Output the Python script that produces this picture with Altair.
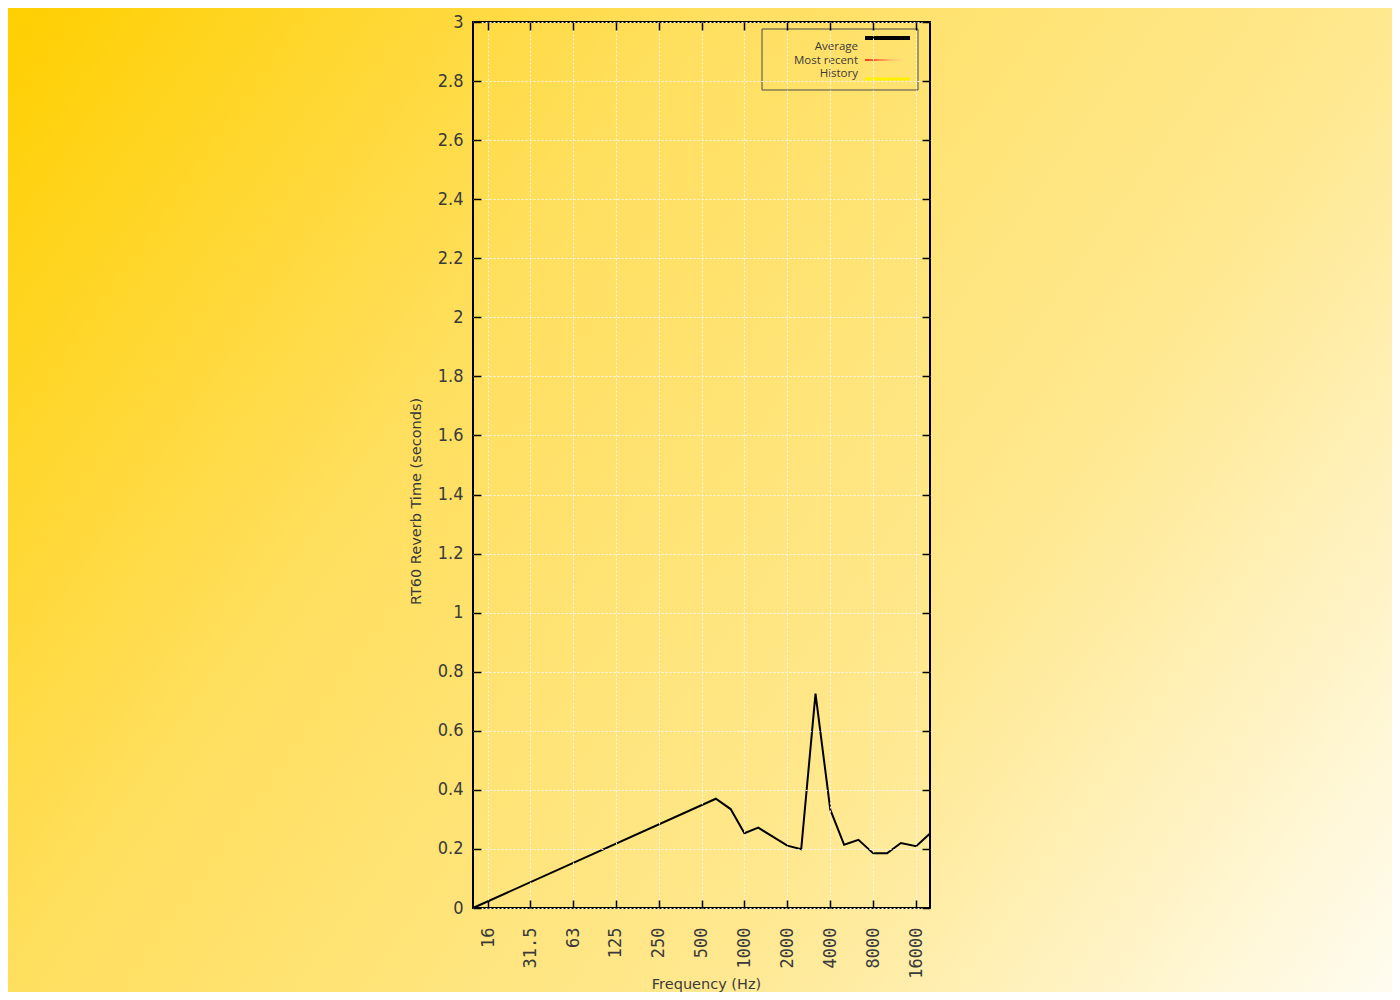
import altair as alt
import pandas as pd

# ---- data ----
freq_hz = [12.5, 630, 800, 1000, 1250, 1600, 2000, 2500, 3150, 4000,
           5000, 6300, 8000, 10000, 12500, 16000, 20000]
rt60_avg = [0.0, 0.37, 0.335, 0.253, 0.272, 0.24, 0.211, 0.199, 0.726, 0.333,
            0.214, 0.231, 0.185, 0.185, 0.22, 0.209, 0.252]
x_ticks = [16, 31.5, 63, 125, 250, 500, 1000, 2000, 4000, 8000, 16000]
y_ticks = [0, 0.2, 0.4, 0.6, 0.8, 1, 1.2, 1.4, 1.6, 1.8, 2, 2.2, 2.4, 2.6, 2.8, 3]
legend_labels = ["Average", "Most recent", "History"]

W, H = 457, 886
PAD_L, PAD_T, PAD_R, PAD_B = 465, 14, 462, 84

df = pd.DataFrame({"freq": freq_hz, "rt60": rt60_avg})

x_scale = alt.Scale(type="log", domain=[12.5, 20000], nice=False)
y_scale = alt.Scale(domain=[0, 3], nice=False, zero=False)

TXT = "#3a3a3a"
GRID = "#f8f6f0"

# ---- page background gradient ----
bg = alt.Chart(pd.DataFrame({"bg": [0]})).mark_rect(
    fill=alt.LinearGradient(
        gradient="linear",
        x1=0, y1=0, x2=1.2, y2=0.6,
        stops=[
            alt.GradientStop(offset=0, color="#FFCF00"),
            alt.GradientStop(offset=0.333, color="#FFDF5E"),
            alt.GradientStop(offset=0.667, color="#FFE88F"),
            alt.GradientStop(offset=1, color="#FFFCF0"),
        ],
    )
).encode(
    x=alt.value(-PAD_L), x2=alt.value(W + PAD_R),
    y=alt.value(-PAD_T), y2=alt.value(H + PAD_B),
)

# ---- main line with bottom/left axes ----
line = alt.Chart(df).mark_line(color="black", strokeWidth=2).encode(
    x=alt.X("freq:Q", scale=x_scale, axis=alt.Axis(
        orient="bottom", values=x_ticks,
        labelExpr="format(datum.value, '~g')",
        labelAngle=270, labelPadding=19, labelFlush=False, labelOverlap=False,
        labelFont="DejaVu Sans Mono", labelFontSize=17, labelColor=TXT,
        offset=-8, tickSize=8, tickColor="black", tickWidth=1.5,
        domain=False, grid=True, gridColor=GRID, gridDash=[2, 2], gridWidth=1,
        title="Frequency (Hz)", titleFont="DejaVu Sans", titleFontSize=14.5,
        titleFontWeight="normal", titleColor=TXT,
        titleBaseline="alphabetic", titleY=88, titleX=233, zindex=1,
    )),
    y=alt.Y("rt60:Q", scale=y_scale, axis=alt.Axis(
        orient="left", values=y_ticks,
        labelExpr="format(datum.value, '~g')",
        labelPadding=10, labelFlush=False, labelOverlap=False,
        labelFont="DejaVu Sans Condensed, Roboto, sans-serif", labelFontSize=18,
        labelColor=TXT,
        offset=-8, tickSize=8, tickColor="black", tickWidth=1.5,
        domain=False, grid=True, gridColor=GRID, gridDash=[2, 2], gridWidth=1,
        title="RT60 Reverb Time (seconds)", titleFont="DejaVu Sans", titleFontSize=14.5,
        titleFontWeight="normal", titleColor=TXT, titlePadding=14,
        titleY=479, zindex=1,
    )),
)

# ---- mirrored ticks on top/right ----
mirror = alt.Chart(df).mark_line(opacity=0).encode(
    x=alt.X("freq:Q", scale=x_scale, axis=alt.Axis(
        orient="top", values=x_ticks, labels=False, domain=False, grid=False,
        offset=-8, tickSize=8, tickColor="black", tickWidth=1.5, title=None, zindex=1,
    )),
    y=alt.Y("rt60:Q", scale=y_scale, axis=alt.Axis(
        orient="right", values=y_ticks, labels=False, domain=False, grid=False,
        offset=-8, tickSize=8, tickColor="black", tickWidth=1.5, title=None, zindex=1,
    )),
)

# ---- plot frame ----
frame = alt.Chart(pd.DataFrame({"f": [0]})).mark_rect(
    fill="transparent", stroke="black", strokeWidth=2
).encode(x=alt.value(0), x2=alt.value(W), y=alt.value(0), y2=alt.value(H))

# ---- legend (gnuplot-style key, top right) ----
legend_box = alt.Chart(pd.DataFrame({"k": [0]})).mark_rect(
    fill="transparent", stroke="#4a4a4a", strokeWidth=1
).encode(x=alt.value(289), x2=alt.value(445), y=alt.value(7), y2=alt.value(68))

text_y = [25, 39, 52]
legend_layers = [legend_box]
for lab, ty in zip(legend_labels, text_y):
    legend_layers.append(
        alt.Chart(pd.DataFrame({"label": [lab]})).mark_text(
            align="right", baseline="middle", font="Open Sans", fontSize=11.5, color=TXT
        ).encode(x=alt.value(385), y=alt.value(ty), text="label:N")
    )

sample_avg = alt.Chart(pd.DataFrame({"s": [0]})).mark_rect(fill="black").encode(
    x=alt.value(392), x2=alt.value(437), y=alt.value(14), y2=alt.value(18))
sample_recent = alt.Chart(pd.DataFrame({"s": [0]})).mark_rect(
    fill=alt.LinearGradient(
        gradient="linear", x1=0, y1=0, x2=1, y2=0,
        stops=[
            alt.GradientStop(offset=0, color="#ff3a1a"),
            alt.GradientStop(offset=0.5, color="#ffb060"),
            alt.GradientStop(offset=1, color="rgba(255,230,150,0)"),
        ],
    )
).encode(x=alt.value(392), x2=alt.value(437), y=alt.value(37), y2=alt.value(39))
sample_hist = alt.Chart(pd.DataFrame({"s": [0]})).mark_rect(fill="#fff000").encode(
    x=alt.value(392), x2=alt.value(437), y=alt.value(55.5), y2=alt.value(58.5))
legend_layers += [sample_avg, sample_recent, sample_hist]

chart = alt.layer(bg, line, mirror, frame, *legend_layers).resolve_scale(
    x="independent", y="independent"
).properties(
    width=W, height=H,
    padding={"left": PAD_L, "top": PAD_T, "right": PAD_R, "bottom": PAD_B},
    autosize=alt.AutoSizeParams(type="none"),
).configure_view(stroke="transparent")

chart.save("out.html", embed_options={"renderer": "svg", "actions": False})
